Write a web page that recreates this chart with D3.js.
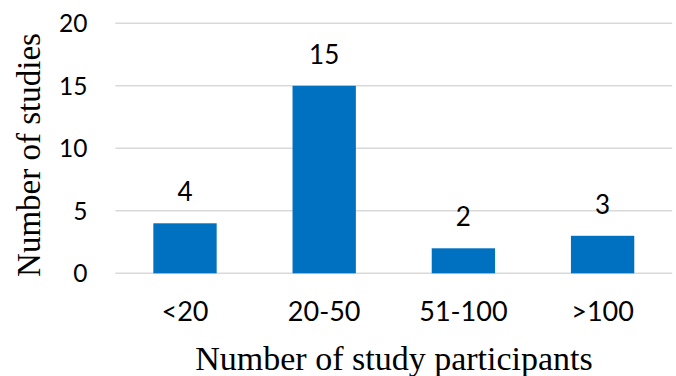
<!DOCTYPE html>
<html><head><meta charset="utf-8">
<script src="https://cdn.jsdelivr.net/npm/d3@7"></script>
<style>body{margin:0;background:#fff}svg{display:block}</style>
</head><body>
<svg id="c" width="676" height="376"></svg>
<script>
const categories = ["<20", "20-50", "51-100", ">100"];
const values = [4, 15, 2, 3];
const yTicks = [0, 5, 10, 15, 20];
const yTitle = "Number of studies";
const xTitle = "Number of study participants";

const svg = d3.select("#c");
const x = d3.scaleBand().domain(categories).range([115.4, 672.2]).paddingInner(0.545).paddingOuter(0.2725);
const y = d3.scaleLinear().domain([0, 20]).range([273.3, 23.3]);
const numFont = "Lato, 'Open Sans', sans-serif";

// gridlines
svg.append("g").selectAll("line").data(yTicks).join("line")
  .attr("x1", 115.4).attr("x2", 672.2)
  .attr("y1", d => y(d)).attr("y2", d => y(d))
  .attr("stroke", "#d9d9d9").attr("stroke-width", 1.5);

// y tick labels
svg.append("g").selectAll("text").data(yTicks).join("text")
  .attr("x", 87.5).attr("y", d => y(d)).attr("dy", "0.36em")
  .attr("text-anchor", "end").attr("font-family", numFont).attr("font-size", 24.5)
  .attr("fill", "#000").text(d => d);

// bars
svg.append("g").selectAll("rect").data(values).join("rect")
  .attr("x", (d, i) => x(categories[i])).attr("width", x.bandwidth())
  .attr("y", d => y(d)).attr("height", d => y(0) - y(d))
  .attr("fill", "#0070C0");

// value labels
svg.append("g").selectAll("text").data(values).join("text")
  .attr("x", (d, i) => x(categories[i]) + x.bandwidth() / 2)
  .attr("y", d => y(d) - 22)
  .attr("text-anchor", "middle").attr("font-family", numFont).attr("font-size", 26)
  .attr("fill", "#000").text(d => d);

// category labels
svg.append("g").selectAll("text").data(categories).join("text")
  .attr("x", d => x(d) + x.bandwidth() / 2).attr("y", 321)
  .attr("text-anchor", "middle").attr("font-family", numFont).attr("font-size", 27)
  .attr("fill", "#000").text(d => d);

// axis titles
svg.append("text").attr("x", 394).attr("y", 370)
  .attr("text-anchor", "middle").attr("font-family", "'Liberation Serif', 'Times New Roman', serif")
  .attr("font-size", 34).attr("fill", "#000").text(xTitle);
svg.append("text").attr("transform", "translate(40,155) rotate(-90)")
  .attr("text-anchor", "middle").attr("font-family", "'Liberation Serif', 'Times New Roman', serif")
  .attr("font-size", 33).attr("fill", "#000").text(yTitle);
</script>
</body></html>
